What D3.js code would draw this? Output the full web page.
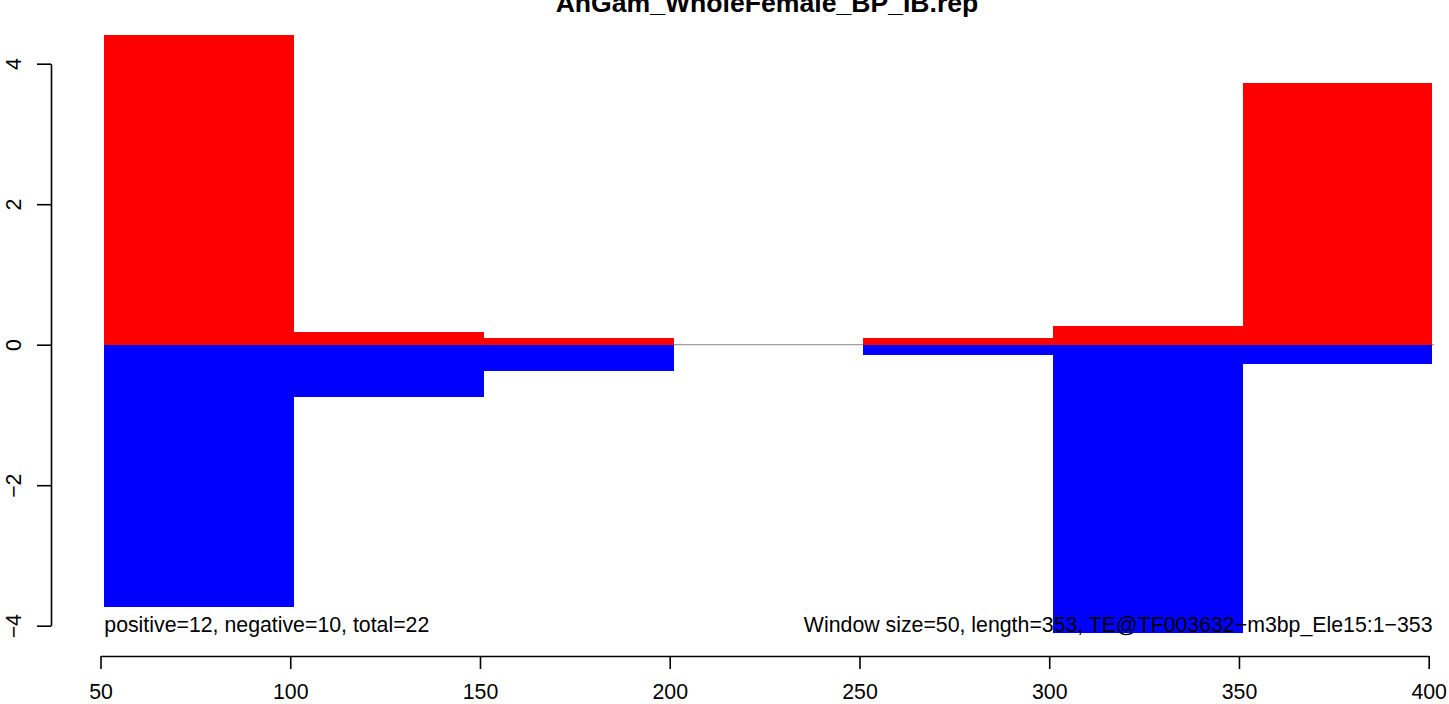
<!DOCTYPE html>
<html>
<head>
<meta charset="utf-8">
<script src="https://cdn.jsdelivr.net/npm/d3@7"></script>
<style>
  html, body { margin: 0; padding: 0; background: #fff; }
  svg { display: block; font-family: "Liberation Sans", Arial, Helvetica, sans-serif; }
</style>
</head>
<body>
<svg id="chart" width="1449" height="704"></svg>
<script>
const title = "AnGam_WholeFemale_BP_IB.rep";
const windowStart = [51, 101, 151, 201, 251, 301, 351];
const windowEnd   = [101, 151, 201, 251, 301, 351, 401];
const positiveVals = [4.41, 0.18, 0.10, 0, 0.10, 0.27, 3.73];
const negativeVals = [-3.73, -0.74, -0.37, 0, -0.14, -4.10, -0.28];
const xTicks = [50, 100, 150, 200, 250, 300, 350, 400];
const yTicks = [-4, -2, 0, 2, 4];
const leftNote = "positive=12, negative=10, total=22";
const rightNote = "Window size=50, length=353, TE@TF003632\u2212m3bp_Ele15:1\u2212353";

const svg = d3.select("#chart");
const x = d3.scaleLinear().domain([50, 400]).range([100.5, 1428.7]);
const y = d3.scaleLinear().domain([-4, 4]).range([625.7, 63.7]);
const FS = 21.3;

// zero line
svg.append("line")
  .attr("x1", x(51)).attr("x2", x(401.4))
  .attr("y1", y(0)).attr("y2", y(0))
  .attr("stroke", "#a0a0a0").attr("stroke-width", 1.3);

const idx = d3.range(windowStart.length);
svg.append("g").attr("shape-rendering", "crispEdges").selectAll("rect").data(idx).join("rect")
  .attr("x", i => x(windowStart[i]))
  .attr("width", i => x(windowEnd[i]) - x(windowStart[i]))
  .attr("y", i => y(positiveVals[i]))
  .attr("height", i => y(0) - y(positiveVals[i]))
  .attr("fill", "#ff0000");
svg.append("g").attr("shape-rendering", "crispEdges").selectAll("rect").data(idx).join("rect")
  .attr("x", i => x(windowStart[i]))
  .attr("width", i => x(windowEnd[i]) - x(windowStart[i]))
  .attr("y", y(0))
  .attr("height", i => y(negativeVals[i]) - y(0))
  .attr("fill", "#0000ff");

// x axis
const xAxis = svg.append("g").attr("transform", "translate(0,656)")
  .call(d3.axisBottom(x).tickValues(xTicks).tickSize(13).tickPadding(15).tickSizeOuter(0));
xAxis.select(".domain").attr("stroke", "#000").attr("stroke-width", 1.6);
xAxis.selectAll(".tick line").attr("stroke", "#000").attr("stroke-width", 1.6);
xAxis.selectAll(".tick text").attr("font-size", FS).attr("fill", "#000")
  .attr("font-family", "Liberation Sans, Arial, sans-serif");

// y axis
const yAxis = svg.append("g").attr("transform", "translate(51,0)")
  .call(d3.axisLeft(y).tickValues(yTicks).tickSize(14).tickSizeOuter(0)
    .tickFormat(d => d < 0 ? "\u2212" + Math.abs(d) : d));
yAxis.select(".domain").attr("stroke", "#000").attr("stroke-width", 1.6);
yAxis.selectAll(".tick line").attr("stroke", "#000").attr("stroke-width", 1.6);
yAxis.selectAll(".tick text")
  .attr("font-size", FS).attr("fill", "#000")
  .attr("font-family", "Liberation Sans, Arial, sans-serif")
  .attr("x", null).attr("dy", null)
  .attr("text-anchor", "middle")
  .attr("transform", "translate(-30,0) rotate(-90)");

// notes
svg.append("text").attr("x", x(51)).attr("y", 632)
  .attr("font-size", FS).attr("fill", "#000").text(leftNote);
svg.append("text").attr("x", x(401)).attr("y", 632)
  .attr("text-anchor", "end").attr("font-size", FS).attr("fill", "#000").text(rightNote);

// title (cut at the top edge, as in the reference)
svg.append("text").attr("x", 767).attr("y", 12)
  .attr("text-anchor", "middle").attr("font-size", 26.6).attr("font-weight", "bold")
  .attr("fill", "#000").text(title);
</script>
</body>
</html>
